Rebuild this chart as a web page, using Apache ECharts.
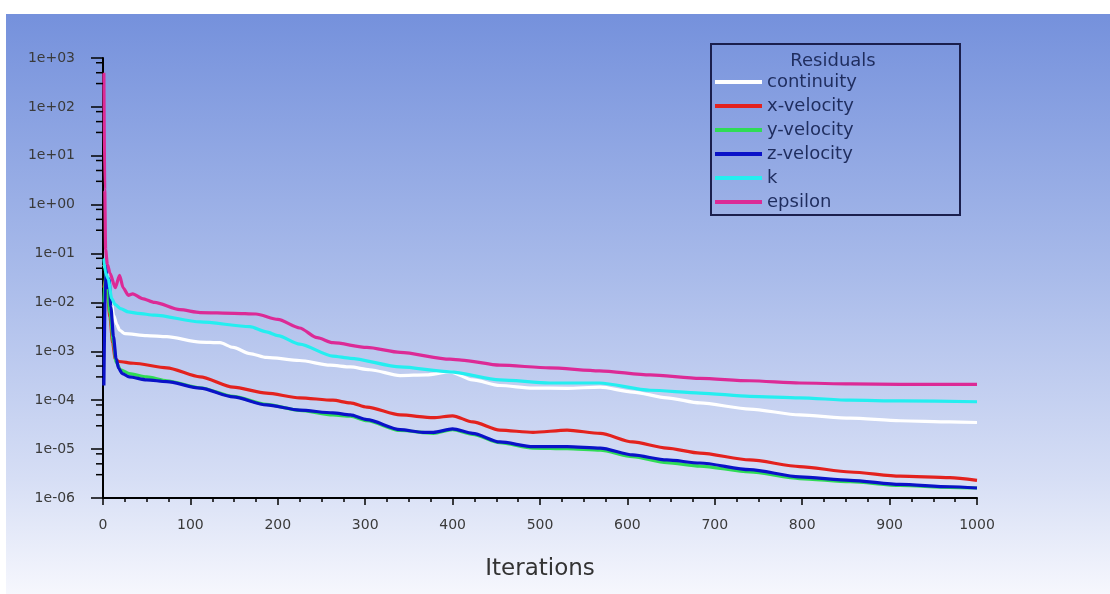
<!DOCTYPE html>
<html>
<head>
<meta charset="utf-8">
<script src="https://cdn.jsdelivr.net/npm/echarts@6/dist/echarts.min.js"></script>
<style>
html,body{margin:0;padding:0;background:#ffffff;}
#chart{width:1110px;height:594px;}
</style>
</head>
<body>
<div id="chart"></div>
<script>
// ---- data (iteration, residual) ----
const continuity = [[1,0.06],[3,0.05],[6,0.025],[9,0.012],[12,0.0055],[16,0.0035],[19,0.0027],[25,0.0023],[50,0.0021],[73,0.002],[111,0.00155],[134,0.0015],[149,0.0012],[168,0.0009],[187,0.00075],[225,0.00065],[260,0.00052],[283,0.00048],[305,0.00042],[340,0.00032],[370,0.00033],[397,0.00038],[423,0.00026],[454,0.0002],[492,0.000177],[531,0.000175],[569,0.000185],[606,0.000147],[645,0.000112],[683,0.000088],[740,0.000066],[797,0.00005],[855,0.000043],[912,0.000038],[969,0.000036],[1000,0.000035]];
const xVelocity = [[1,0.02],[3,0.03],[5,0.015],[8,0.005],[11,0.0015],[14,0.0007],[18,0.00062],[35,0.00057],[73,0.00046],[111,0.0003],[149,0.000185],[187,0.00014],[225,0.000112],[263,0.0001],[283,0.000088],[302,0.000072],[340,0.00005],[378,0.000044],[400,0.000048],[423,0.000036],[454,0.0000245],[492,0.000022],[531,0.0000245],[569,0.000021],[606,0.000014],[645,0.0000105],[683,0.0000083],[740,0.000006],[797,0.0000044],[855,0.0000034],[912,0.0000028],[969,0.0000026],[1000,0.0000023]];
const yVelocity = [[1,0.01],[3,0.04],[5,0.02],[8,0.006],[12,0.0015],[15,0.0006],[20,0.00042],[30,0.00035],[50,0.0003],[73,0.00025],[111,0.00018],[149,0.00012],[187,0.000082],[225,0.000062],[263,0.00005],[283,0.000047],[302,0.000038],[340,0.000024],[378,0.000021],[400,0.000025],[423,0.00002],[454,0.0000135],[492,0.0000105],[531,0.0000102],[569,0.0000095],[606,0.000007],[645,0.0000053],[683,0.0000045],[740,0.0000034],[797,0.0000025],[855,0.00000215],[912,0.0000018],[969,0.00000165],[1000,0.0000016]];
const zVelocity = [[1,0.0002],[3,0.06],[5,0.02],[7,0.03],[9,0.008],[12,0.002],[15,0.0007],[18,0.00045],[22,0.00035],[30,0.0003],[50,0.00026],[73,0.00024],[111,0.000177],[149,0.000117],[187,0.00008],[225,0.000063],[263,0.000055],[283,0.00005],[302,0.00004],[340,0.000025],[366,0.000022],[378,0.000022],[400,0.000026],[423,0.000021],[454,0.000014],[492,0.0000112],[531,0.0000112],[569,0.0000105],[606,0.0000076],[645,0.000006],[683,0.0000052],[740,0.0000038],[797,0.0000027],[855,0.0000023],[912,0.0000019],[969,0.0000017],[1000,0.0000016]];
const kRes = [[1,0.08],[3,0.04],[6,0.03],[10,0.012],[14,0.009],[20,0.0075],[29,0.0064],[40,0.006],[59,0.0055],[111,0.004],[168,0.0032],[187,0.0025],[200,0.0021],[225,0.0014],[263,0.0008],[283,0.00072],[340,0.00048],[397,0.00038],[454,0.00026],[511,0.000225],[568,0.000225],[626,0.00016],[683,0.00014],[740,0.00012],[797,0.000112],[855,0.0001],[912,0.000097],[1000,0.000093]];
const epsilon = [[1,500],[2,2],[3,0.12],[5,0.06],[8,0.04],[14,0.02],[19,0.036],[23,0.02],[29,0.014],[34,0.015],[45,0.012],[59,0.01],[88,0.0071],[111,0.0062],[150,0.006],[175,0.0058],[200,0.0045],[225,0.003],[245,0.0019],[263,0.0015],[302,0.0012],[340,0.00095],[397,0.00069],[410,0.00066],[454,0.00052],[511,0.00046],[568,0.0004],[626,0.00033],[683,0.00028],[740,0.00025],[797,0.000225],[855,0.000215],[912,0.00021],[1000,0.00021]];

const seriesNames = ['continuity','x-velocity','y-velocity','z-velocity','k','epsilon'];
const seriesData = [continuity, xVelocity, yVelocity, zVelocity, kRes, epsilon];
const seriesColors = ['#ffffff','#e3221e','#2fdc55','#0a12c8','#24eef0','#dc2a96'];

// ---- axis ticks ----
const xTickLabels = ['0','100','200','300','400','500','600','700','800','900','1000'];
const yTickLabels = ['1e-06','1e-05','1e-04','1e-03','1e-02','1e-01','1e+00','1e+01','1e+02','1e+03'];
const yMinExp = -6, yMaxExp = 3;
const minorMultipliers = [3, 5, 8];
const minorTickValues = [];
for (let e = yMinExp; e < yMaxExp; e++) {
  minorMultipliers.forEach(m => minorTickValues.push([0, m * Math.pow(10, e)]));
}

const chart = echarts.init(document.getElementById('chart'));
const font = 'DejaVu Sans';

const series = seriesNames.map((n, i) => ({
  name: n,
  type: 'line',
  data: seriesData[i],
  showSymbol: false,
  symbol: 'none',
  smooth: 0.25,
  smoothMonotone: 'x',
  lineStyle: { width: 3.2, color: seriesColors[i] },
  itemStyle: { color: seriesColors[i] },
  z: 3 + i,
  animation: false
}));

series.push({
  type: 'custom',
  name: 'minorTicks',
  data: minorTickValues,
  clip: false,
  silent: true,
  z: 10,
  renderItem: function (params, api) {
    const p = api.coord([0, api.value(1)]);
    return {
      type: 'line',
      shape: { x1: p[0] - 7, y1: p[1], x2: p[0], y2: p[1] },
      style: { stroke: '#000', lineWidth: 1.5 }
    };
  },
  animation: false
});

chart.setOption({
  animation: false,
  backgroundColor: '#ffffff',
  graphic: [
    {
      type: 'rect', z: -100, silent: true,
      shape: { x: 6, y: 14, width: 1104, height: 580 },
      style: {
        fill: new echarts.graphic.LinearGradient(0, 0, 0, 1, [
          { offset: 0, color: '#7591dc' },
          { offset: 0.45, color: '#a9bbea' },
          { offset: 0.8, color: '#d6def5' },
          { offset: 1, color: '#f6f7fd' }
        ])
      }
    },
    {
      type: 'rect', z: 50, silent: true,
      shape: { x: 711, y: 44, width: 249, height: 171 },
      style: { fill: 'none', stroke: '#1b1f4d', lineWidth: 2 }
    },
    {
      type: 'text', z: 50, silent: true,
      x: 833, y: 61,
      style: { text: 'Residuals', fill: '#1f2d5e', font: '18px "DejaVu Sans"', align: 'center', verticalAlign: 'middle' }
    }
  ],
  legend: {
    data: seriesNames,
    orient: 'vertical',
    left: 715,
    top: 72,
    padding: 0,
    itemWidth: 47,
    itemHeight: 4,
    itemGap: 4,
    icon: 'rect',
    textStyle: { fontFamily: font, fontSize: 18, lineHeight: 20, color: '#1f2d5e' },
    selectedMode: false
  },
  grid: { left: 103, right: 133, top: 58, bottom: 96, containLabel: false },
  xAxis: {
    type: 'value', min: 0, max: 1000, interval: 100,
    name: 'Iterations', nameLocation: 'middle', nameGap: 60,
    nameTextStyle: { fontFamily: font, fontSize: 23, color: '#333' },
    axisLine: { show: true, lineStyle: { color: '#000', width: 2 } },
    axisTick: { show: true, length: 7, lineStyle: { color: '#000', width: 1.5 } },
    minorTick: { show: true, splitNumber: 4, length: 4, lineStyle: { color: '#000', width: 1.5 } },
    splitLine: { show: false },
    axisLabel: {
      margin: 20, fontFamily: font, fontSize: 14, color: '#3a3a3a',
      formatter: function (v) { return xTickLabels[Math.round(v / 100)]; }
    }
  },
  yAxis: {
    type: 'log', logBase: 10, min: 1e-6, max: 1e3, interval: 1,
    axisLine: { show: true, onZero: false, lineStyle: { color: '#000', width: 2 } },
    axisTick: { show: true, length: 12, lineStyle: { color: '#000', width: 1.5 } },
    minorTick: { show: false },
    splitLine: { show: false },
    axisLabel: {
      margin: 28, fontFamily: font, fontSize: 14, color: '#3a3a3a',
      formatter: function (v) {
        const e = Math.round(Math.log10(v));
        return yTickLabels[e - yMinExp];
      }
    }
  },
  series: series
});
</script>
</body>
</html>
